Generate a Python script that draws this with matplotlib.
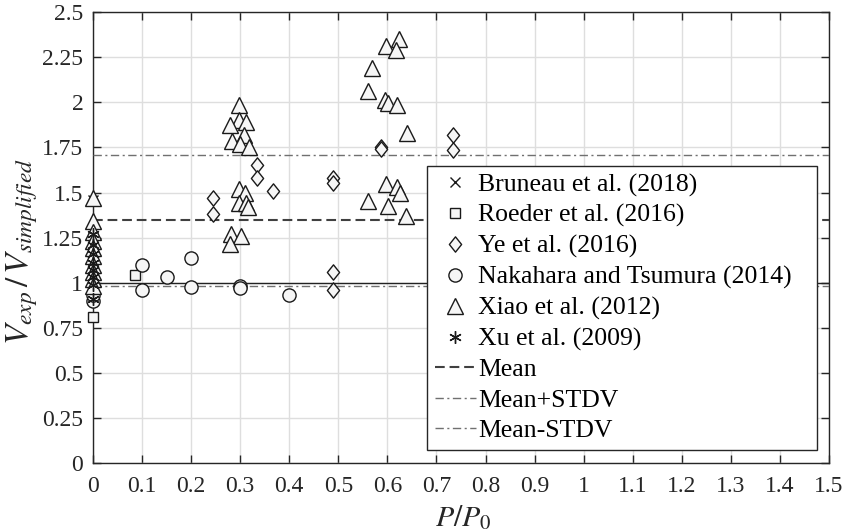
import matplotlib
matplotlib.use("Agg")
import matplotlib.pyplot as plt
from matplotlib.path import Path

plt.rcParams['font.family'] = ['Liberation Serif', 'DejaVu Serif']
plt.rcParams['mathtext.fontset'] = 'stix'
plt.rcParams['lines.scale_dashes'] = False

# ---- data: P/P0 and Vexp/Vsimplified for each test programme ----
bruneau_x = [0, 0, 0, 0, 0, 0, 0, 0, 0]
bruneau_y = [1.46, 1.29, 1.25, 1.21, 1.17, 1.13, 1.09, 1.05, 1.01]

roeder_x = [0, 0, 0.085]
roeder_y = [0.81, 1.17, 1.04]

ye_x = [0.245, 0.245, 0.335, 0.335, 0.367, 0.489, 0.489, 0.489, 0.489,
        0.586, 0.586, 0.733, 0.733]
ye_y = [1.47, 1.38, 1.65, 1.58, 1.51, 1.58, 1.555, 1.06, 0.96,
        1.755, 1.74, 1.82, 1.735]

nakahara_x = [0, 0, 0.10, 0.10, 0.15, 0.20, 0.20, 0.30, 0.30, 0.40]
nakahara_y = [0.90, 0.93, 1.10, 0.96, 1.03, 1.135, 0.975, 0.98, 0.97, 0.93]

xiao_x = [0, 0, 0, 0, 0, 0, 0, 0, 0, 0,
          0.298, 0.298, 0.311, 0.280, 0.308, 0.284, 0.299, 0.318,
          0.298, 0.309, 0.298, 0.311, 0.316, 0.282, 0.301, 0.280,
          0.624, 0.598, 0.618, 0.569, 0.560, 0.596, 0.601, 0.619,
          0.640, 0.598, 0.620, 0.625, 0.560, 0.601, 0.638]
xiao_y = [1.47, 1.34, 1.28, 1.23, 1.19, 1.15, 1.10, 1.06, 1.02, 0.98,
          1.985, 1.905, 1.89, 1.877, 1.82, 1.787, 1.768, 1.753,
          1.517, 1.498, 1.443, 1.44, 1.42, 1.27, 1.26, 1.214,
          2.349, 2.312, 2.289, 2.188, 2.064, 2.012, 1.997, 1.985,
          1.831, 1.547, 1.532, 1.495, 1.454, 1.426, 1.369]

xu_x = [0, 0, 0, 0, 0, 0, 0, 0]
xu_y = [1.27, 1.21, 1.16, 1.11, 1.07, 1.03, 0.99, 0.91]

mean_val = 1.35
mean_plus = 1.71
mean_minus = 0.98
unity = 1.0

x_ticks = [round(0.1 * i, 1) for i in range(16)]
x_tick_labels = ['0', '0.1', '0.2', '0.3', '0.4', '0.5', '0.6', '0.7', '0.8',
                 '0.9', '1', '1.1', '1.2', '1.3', '1.4', '1.5']
y_ticks = [0, 0.25, 0.5, 0.75, 1, 1.25, 1.5, 1.75, 2, 2.25, 2.5]
y_tick_labels = ['0', '0.25', '0.5', '0.75', '1', '1.25', '1.5', '1.75', '2',
                 '2.25', '2.5']

# ---- figure ----
fig = plt.figure(figsize=(8.47, 5.31), dpi=100)
ax = fig.add_axes([0.1098, 0.128, 0.869, 0.849])

face = '#f6f6f6'
edge = '#1a1a1a'
diamond = Path([(0, 1), (0.8, 0), (0, -1), (-0.8, 0), (0, 1)],
               [Path.MOVETO, Path.LINETO, Path.LINETO, Path.LINETO, Path.CLOSEPOLY])

common = dict(linestyle='none', markerfacecolor=face, markeredgecolor=edge,
              markeredgewidth=1.0, zorder=5, clip_on=False)

ax.plot(bruneau_x, bruneau_y, marker='x', markersize=7, label='Bruneau et al. (2018)', **common)
ax.plot(roeder_x, roeder_y, marker='s', markersize=7.5, label='Roeder et al. (2016)', **common)
ax.plot(ye_x, ye_y, marker=diamond, markersize=11, label='Ye et al. (2016)', **common)
ax.plot(nakahara_x, nakahara_y, marker='o', markersize=9.5, label='Nakahara and Tsumura (2014)', **common)
ax.plot(xiao_x, xiao_y, marker='^', markersize=11, label='Xiao et al. (2012)', **common)
ax.plot(xu_x, xu_y, marker=(6, 2, 0), markersize=9, label='Xu et al. (2009)', **common)

ax.axhline(mean_val, color='#404040', linewidth=1.5, dashes=(7, 3.5), label='Mean', zorder=3)
ax.axhline(mean_plus, color='#707070', linewidth=1.0, dashes=(6, 2.5, 1.5, 2.5),
           label='Mean+STDV', zorder=3)
ax.axhline(mean_minus, color='#707070', linewidth=1.0, dashes=(6, 2.5, 1.5, 2.5),
           label='Mean-STDV', zorder=3)
ax.axhline(unity, color='#222222', linewidth=1.0, zorder=3)

ax.set_xlim(0, 1.5)
ax.set_ylim(0, 2.5)
ax.set_xticks(x_ticks)
ax.set_xticklabels(x_tick_labels)
ax.set_yticks(y_ticks)
ax.set_yticklabels(y_tick_labels)

ax.grid(True, color='#dedede', linewidth=1.0)
ax.set_axisbelow(True)
ax.tick_params(direction='in', length=6, width=1, colors='#262626',
               labelsize=17, top=True, right=True, labelcolor='#262626')
ax.tick_params(axis='x', pad=9)
ax.tick_params(axis='y', pad=7)
for s in ax.spines.values():
    s.set_color('#262626')
    s.set_linewidth(1.0)

ax.set_xlabel(r'$P/P_0$', fontsize=21.5, color='#262626')
ax.xaxis.set_label_coords(0.503, -0.088)
ax.set_ylabel(r'$V_{exp}\,/\,V_{simplified}$', fontsize=24, color='#262626')
ax.yaxis.set_label_coords(-0.072, 0.47)

leg = ax.legend(loc='lower left', bbox_to_anchor=(0.4538, 0.029, 0.5302, 0.6),
                mode='expand', fontsize=18.5,
                frameon=True, fancybox=False, framealpha=1, edgecolor='#262626',
                handlelength=1.6, handletextpad=0.1, labelspacing=0.29,
                borderpad=0.3, borderaxespad=0)
leg.get_frame().set_linewidth(1.0)
leg.set_zorder(10)

fig.savefig('out.png', dpi=100)
